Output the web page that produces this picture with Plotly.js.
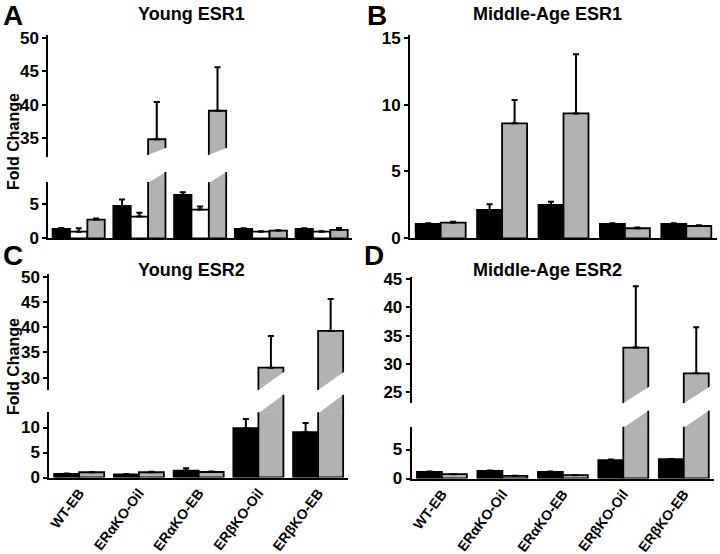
<!DOCTYPE html>
<html><head><meta charset="utf-8">
<script src="https://cdn.plot.ly/plotly-3.0.1.min.js"></script>
<style>html,body{margin:0;padding:0;background:#fff}#chart{width:720px;height:554px}</style>
</head><body><div id="chart"></div><script>
// ---- data ----
const categories = ['WT-EB', 'ERαKO-Oil', 'ERαKO-EB', 'ERβKO-Oil', 'ERβKO-EB'];
// A: Young ESR1
const youngEsr1Black    = [1.38, 4.76, 6.38, 1.38, 1.38];
const youngEsr1BlackErr = [0.12, 0.95, 0.40, 0.10, 0.10];
const youngEsr1White    = [0.98, 3.19, 4.22, 0.98, 0.98];
const youngEsr1WhiteErr = [0.50, 0.55, 0.45, 0.05, 0.05];
const youngEsr1Gray     = [2.75, 34.85, 39.1, 1.13, 1.23];
const youngEsr1GrayErr  = [0.15, 5.55, 6.50, 0.05, 0.30];
// B: Middle-Age ESR1
const midEsr1Black    = [1.07, 2.12, 2.49, 1.07, 1.07];
const midEsr1BlackErr = [0.05, 0.42, 0.25, 0.05, 0.05];
const midEsr1Gray     = [1.17, 8.60, 9.34, 0.75, 0.92];
const midEsr1GrayErr  = [0.07, 1.74, 4.42, 0.05, 0.06];
// C: Young ESR2
const youngEsr2Black    = [0.70, 0.60, 1.35, 9.88, 9.07];
const youngEsr2BlackErr = [0.10, 0.08, 0.50, 1.82, 1.83];
const youngEsr2Gray     = [1.05, 1.05, 1.10, 31.98, 39.25];
const youngEsr2GrayErr  = [0.05, 0.10, 0.10, 6.28, 6.35];
// D: Middle-Age ESR2
const midEsr2Black    = [1.14, 1.31, 1.14, 3.16, 3.33];
const midEsr2BlackErr = [0.05, 0.05, 0.05, 0.10, 0.05];
const midEsr2Gray     = [0.74, 0.45, 0.57, 32.9, 28.35];
const midEsr2GrayErr  = [0.03, 0.03, 0.03, 10.8, 8.15];

const panelTitles = ['Young ESR1', 'Middle-Age ESR1', 'Young ESR2', 'Middle-Age ESR2'];
const panelLetters = ['A', 'B', 'C', 'D'];
const yTitle = 'Fold Change';

// ---- layout helpers ----
const W = 720, H = 554;
const X = p => p / W, Y = p => 1 - p / H;
const BLACK = '#000000', WHITE = '#ffffff', GRAY = '#b2b2b2';
const FONT = 'Arial, "Liberation Sans", Helvetica, sans-serif';
const B = t => '<b>' + t + '</b>';

const panels = [
  {xa: 'x', x0: 48.3, x1: 352, w: 0.286, labels: false,
   series: [[youngEsr1Black, youngEsr1BlackErr, BLACK], [youngEsr1White, youngEsr1WhiteErr, WHITE], [youngEsr1Gray, youngEsr1GrayErr, GRAY]],
   lower: {ya: 'y', top: 182, bot: 238.3, range: [0, 8.28], ticks: [0, 5]},
   upper: {ya: 'y2', top: 35, bot: 157, range: [32.2, 50.4], ticks: [35, 40, 45, 50]},
   hU: 7, aU: 2, hL: 10},
  {xa: 'x2', x0: 410, x1: 717, w: 0.407, labels: false,
   series: [[midEsr1Black, midEsr1BlackErr, BLACK], [midEsr1Gray, midEsr1GrayErr, GRAY]],
   lower: {ya: 'y3', top: 35, bot: 238.3, range: [0, 15.2], ticks: [0, 5, 10, 15]}},
  {xa: 'x3', x0: 49.3, x1: 348, w: 0.419, labels: true,
   series: [[youngEsr2Black, youngEsr2BlackErr, BLACK], [youngEsr2Gray, youngEsr2GrayErr, GRAY]],
   lower: {ya: 'y4', top: 412.3, bot: 477.5, range: [0, 13.04], ticks: [0, 5, 10]},
   upper: {ya: 'y5', top: 274, bot: 390, range: [27.56, 50.53], ticks: [30, 35, 40, 45, 50]},
   hU: 17.5, aU: 0, hL: 17.5},
  {xa: 'x4', x0: 411.7, x1: 714, w: 0.413, labels: true,
   series: [[midEsr2Black, midEsr2BlackErr, BLACK], [midEsr2Gray, midEsr2GrayErr, GRAY]],
   lower: {ya: 'y6', top: 426.7, bot: 478.5, range: [0, 8.93], ticks: [0, 5]},
   upper: {ya: 'y7', top: 277, bot: 403.3, range: [23.06, 45.35], ticks: [25, 30, 35, 40, 45]},
   hU: 16, aU: 0, hL: 16}
];

const axKey = id => id.replace(/^x/, 'xaxis').replace(/^y/, 'yaxis');
const traces = [];
const shapes = [];
const layout = {
  width: W, height: H,
  margin: {l: 0, r: 0, t: 0, b: 0, pad: 0},
  paper_bgcolor: '#ffffff', plot_bgcolor: 'rgba(0,0,0,0)',
  showlegend: false, barmode: 'overlay',
  font: {family: FONT, color: '#000', size: 15},
  annotations: []
};

function yAxisDef(sub, xa) {
  return {
    domain: [Y(sub.bot), Y(sub.top)], anchor: xa, range: sub.range,
    tickvals: sub.ticks, ticktext: sub.ticks.map(v => B(v)),
    ticks: 'outside', ticklen: 4, tickwidth: 2, tickcolor: '#000', ticklabelstandoff: 0,
    showline: true, linewidth: 2, linecolor: '#000', showgrid: false, zeroline: false,
    tickfont: {family: FONT, size: 17, color: '#000'}, fixedrange: true
  };
}

panels.forEach((p, pi) => {
  layout[axKey(p.xa)] = {
    domain: [X(p.x0), X(p.x1)], anchor: p.lower.ya, type: 'category',
    categoryorder: 'array', categoryarray: categories, range: [-0.5, 4.5],
    tickvals: categories, ticktext: categories.map(B),
    showline: true, linewidth: 2, linecolor: '#000', ticks: '', showgrid: false, zeroline: false,
    showticklabels: p.labels, tickangle: -53,
    tickfont: {family: FONT, size: 14, color: '#000'}, fixedrange: true
  };
  layout[axKey(p.lower.ya)] = yAxisDef(p.lower, p.xa);
  if (p.upper) layout[axKey(p.upper.ya)] = yAxisDef(p.upper, p.xa);

  const n = p.series.length;
  const subs = p.upper ? [p.lower, p.upper] : [p.lower];
  p.series.forEach(([vals, errs, color], s) => {
    const off = -n * p.w / 2 + s * p.w;
    subs.forEach(sub => {
      traces.push({
        type: 'bar', x: categories, y: vals, xaxis: p.xa, yaxis: sub.ya,
        width: p.w, offset: off,
        marker: {color: color, line: {color: '#000', width: 1.8}},
        error_y: {type: 'data', symmetric: false, array: errs, arrayminus: vals.map(() => 0),
                  color: '#000', thickness: 2, width: 3},
        hoverinfo: 'skip', showlegend: false
      });
    });
    // axis-break decoration for bars that exceed the lower segment
    if (p.upper) {
      const xpx = v => p.x0 + (v + 0.5) / 5 * (p.x1 - p.x0);
      vals.forEach((v, i) => {
        if (v <= p.lower.range[1]) return;
        const xl = xpx(i + off), xr = xpx(i + off + p.w);
        const kU = p.hU / (xr - xl);
        const yb = p.upper.bot;
        const yLu = yb - p.aU, yRu = yb - p.aU - p.hU;
        const pt = (a, b) => X(a) + ',' + Y(b);
        shapes.push({
          type: 'path', xref: 'paper', yref: 'paper', layer: 'above',
          path: 'M' + pt(xl - 2, yb + 3) + 'L' + pt(xr + 2, yb + 3) + 'L' + pt(xr + 2, yRu - 2 * kU) +
                'L' + pt(xl - 2, yLu + 2 * kU) + 'Z',
          fillcolor: '#ffffff', line: {width: 0}
        });
        const yt = p.lower.top;
        shapes.push({
          type: 'path', xref: 'paper', yref: 'paper', layer: 'above',
          path: 'M' + pt(xl + 0.9, yt + 0.5) + 'L' + pt(xr, yt + 0.5) + 'L' + pt(xr, yt - p.hL) + 'Z',
          fillcolor: color, line: {width: 0}
        });
        shapes.push({
          type: 'line', xref: 'paper', yref: 'paper', layer: 'above',
          x0: X(xr), x1: X(xr), y0: Y(yt + 0.5), y1: Y(yt - p.hL),
          line: {color: '#000', width: 1.8}
        });
      });
    }
  });
});
layout.shapes = shapes;

// titles, panel letters, y titles
const titlePos = [[191, 14], [547, 14], [191, 270], [547, 270]];
const letterPos = [[13, 15], [377, 15], [13, 255], [374, 255]];
panelTitles.forEach((t, i) => {
  layout.annotations.push({text: B(t), xref: 'paper', yref: 'paper', x: X(titlePos[i][0]), y: Y(titlePos[i][1]),
    xanchor: 'center', yanchor: 'middle', showarrow: false, font: {family: FONT, size: 18, color: '#000'}});
  layout.annotations.push({text: B(panelLetters[i]), xref: 'paper', yref: 'paper', x: X(letterPos[i][0]), y: Y(letterPos[i][1]),
    xanchor: 'center', yanchor: 'middle', showarrow: false, font: {family: FONT, size: 28, color: '#000'}});
});
[[13, 142], [13, 367]].forEach(([a, b]) => {
  layout.annotations.push({text: B(yTitle), xref: 'paper', yref: 'paper', x: X(a), y: Y(b), textangle: -90,
    xanchor: 'center', yanchor: 'middle', showarrow: false, font: {family: FONT, size: 16, color: '#000'}});
});

Plotly.newPlot('chart', traces, layout, {staticPlot: true, displayModeBar: false});
</script></body></html>
